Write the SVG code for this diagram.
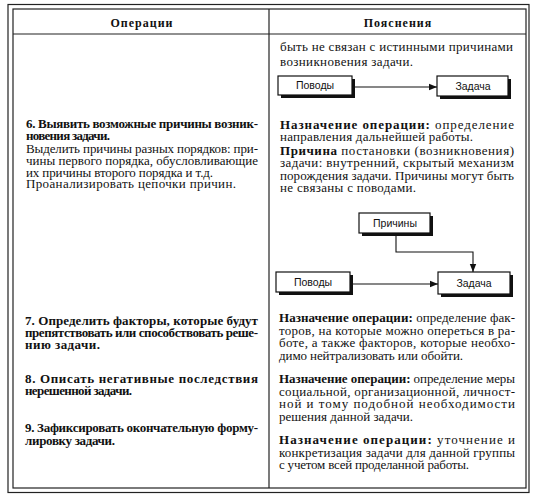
<svg xmlns="http://www.w3.org/2000/svg" width="536" height="500" viewBox="0 0 536 500">
<style>
.frame{fill:none;stroke:#222;stroke-width:1.2}
.ln{stroke:#222;stroke-width:1.2;fill:none}
.hd{font-family:"Liberation Serif",serif;font-weight:bold;font-size:12px;letter-spacing:1px;fill:#111;text-anchor:middle}
.t{font-family:"Liberation Serif",serif;font-size:13px;fill:#111}
.b{font-weight:bold}
.box{fill:#fff;stroke:#111;stroke-width:1.2}
.sh{fill:#111}
.bl{font-family:"Liberation Sans",Arial,sans-serif;font-size:10.5px;fill:#111;text-anchor:middle}
.con{stroke:#111;stroke-width:1.1;fill:none}
</style>
<defs>
<marker id="ah" viewBox="0 0 10 10" refX="10" refY="5" markerWidth="8" markerHeight="8" markerUnits="userSpaceOnUse" orient="auto">
<path d="M0,1 L10,5 L0,9 Z" fill="#111"/>
</marker>
</defs>
<rect width="536" height="500" fill="#fff"/>
<g id="table">
<rect class="frame" x="8" y="4.5" width="521" height="488"/>
<rect class="frame" x="13" y="9" width="513" height="479"/>
<line class="ln" x1="13" y1="34" x2="526" y2="34"/>
<line class="ln" x1="269" y1="9" x2="269" y2="488"/>
</g>
<g id="header">
<text class="hd" x="142" y="27">Операции</text>
<text class="hd" x="398" y="27">Пояснения</text>
</g>
<g id="row5-explain">
<text class="t"><tspan x="280" y="51" textLength="233" lengthAdjust="spacing">быть не связан с истинными причинами</tspan><tspan x="280" y="66" textLength="133" lengthAdjust="spacing">возникновения задачи.</tspan></text>
</g>
<g id="row6-op">
<text class="t b"><tspan x="26" y="128" textLength="232" lengthAdjust="spacing">6. Выявить возможные причины возник-</tspan><tspan x="26" y="140" textLength="84" lengthAdjust="spacing">новения задачи.</tspan></text>
<text class="t"><tspan x="26" y="153" textLength="232" lengthAdjust="spacing">Выделить причины разных порядков: при-</tspan><tspan x="26" y="165" textLength="232" lengthAdjust="spacing">чины первого порядка, обусловливающие</tspan><tspan x="26" y="176.5" textLength="187" lengthAdjust="spacing">их причины второго порядка и т.д.</tspan><tspan x="26" y="188" textLength="210" lengthAdjust="spacing">Проанализировать цепочки причин.</tspan></text>
</g>
<g id="row6-explain">
<text class="t"><tspan x="280" y="129" textLength="234" lengthAdjust="spacing"><tspan class="b">Назначение операции:</tspan> определение</tspan><tspan x="280" y="141" textLength="193" lengthAdjust="spacing">направления дальнейшей работы.</tspan></text>
<text class="t"><tspan x="280" y="155" textLength="234" lengthAdjust="spacing"><tspan class="b">Причина</tspan> постановки (возникновения)</tspan><tspan x="280" y="167" textLength="234" lengthAdjust="spacing">задачи: внутренний, скрытый механизм</tspan><tspan x="280" y="179.5" textLength="234" lengthAdjust="spacing">порождения задачи. Причины могут быть</tspan><tspan x="280" y="191.5" textLength="136" lengthAdjust="spacing">не связаны с поводами.</tspan></text>
</g>
<g id="row7-op">
<text class="t b"><tspan x="25" y="325" textLength="233" lengthAdjust="spacing">7. Определить факторы, которые будут</tspan><tspan x="25" y="337" textLength="233" lengthAdjust="spacing">препятствовать или способствовать реше-</tspan><tspan x="25" y="349" textLength="75" lengthAdjust="spacing">нию задачи.</tspan></text>
</g>
<g id="row7-explain">
<text class="t"><tspan x="279" y="322" textLength="236" lengthAdjust="spacing"><tspan class="b">Назначение операции:</tspan> определение фак-</tspan><tspan x="279" y="334.5" textLength="236" lengthAdjust="spacing">торов, на которые можно опереться в ра-</tspan><tspan x="279" y="347" textLength="236" lengthAdjust="spacing">боте, а также факторов, которые необхо-</tspan><tspan x="279" y="359.5" textLength="184" lengthAdjust="spacing">димо нейтрализовать или обойти.</tspan></text>
</g>
<g id="row8-op">
<text class="t b"><tspan x="25" y="383" textLength="233" lengthAdjust="spacing">8. Описать негативные последствия</tspan><tspan x="25" y="395" textLength="107" lengthAdjust="spacing">нерешенной задачи.</tspan></text>
</g>
<g id="row8-explain">
<text class="t"><tspan x="279" y="383" textLength="236" lengthAdjust="spacing"><tspan class="b">Назначение операции:</tspan> определение меры</tspan><tspan x="279" y="395.5" textLength="236" lengthAdjust="spacing">социальной, организационной, личност-</tspan><tspan x="279" y="408" textLength="236" lengthAdjust="spacing">ной и тому подобной необходимости</tspan><tspan x="279" y="420.5" textLength="134" lengthAdjust="spacing">решения данной задачи.</tspan></text>
</g>
<g id="row9-op">
<text class="t b"><tspan x="25" y="432" textLength="233" lengthAdjust="spacing">9. Зафиксировать окончательную форму-</tspan><tspan x="25" y="445" textLength="90" lengthAdjust="spacing">лировку задачи.</tspan></text>
</g>
<g id="row9-explain">
<text class="t"><tspan x="279" y="444" textLength="236" lengthAdjust="spacing"><tspan class="b">Назначение операции:</tspan> уточнение и</tspan><tspan x="279" y="456.5" textLength="236" lengthAdjust="spacing">конкретизация задачи для данной группы</tspan><tspan x="279" y="468.5" textLength="190" lengthAdjust="spacing">с учетом всей проделанной работы.</tspan></text>
</g>
<g id="connectors">
<line class="con" x1="352" y1="87" x2="437" y2="87" marker-end="url(#ah)"/>
<polyline class="con" points="396,233 396,252 473,252 473,272" marker-end="url(#ah)"/>
<line class="con" x1="350" y1="284" x2="438" y2="284" marker-end="url(#ah)"/>
</g>
<g id="node-povody-1">
<rect class="sh" x="281" y="79" width="74" height="19"/>
<rect class="box" x="278" y="76" width="74" height="19"/>
<text class="bl" x="315" y="89">Поводы</text>
</g>
<g id="node-zadacha-1">
<rect class="sh" x="440" y="79" width="71" height="20"/>
<rect class="box" x="437" y="76" width="71" height="20"/>
<text class="bl" x="473" y="90">Задача</text>
</g>
<g id="node-prichiny">
<rect class="sh" x="362" y="216" width="71" height="20"/>
<rect class="box" x="359" y="213" width="71" height="20"/>
<text class="bl" x="395" y="227">Причины</text>
</g>
<g id="node-povody-2">
<rect class="sh" x="279" y="275" width="74" height="20"/>
<rect class="box" x="276" y="272" width="74" height="20"/>
<text class="bl" x="313" y="286">Поводы</text>
</g>
<g id="node-zadacha-2">
<rect class="sh" x="441" y="275" width="72" height="22"/>
<rect class="box" x="438" y="272" width="72" height="22"/>
<text class="bl" x="474" y="287">Задача</text>
</g>
</svg>
